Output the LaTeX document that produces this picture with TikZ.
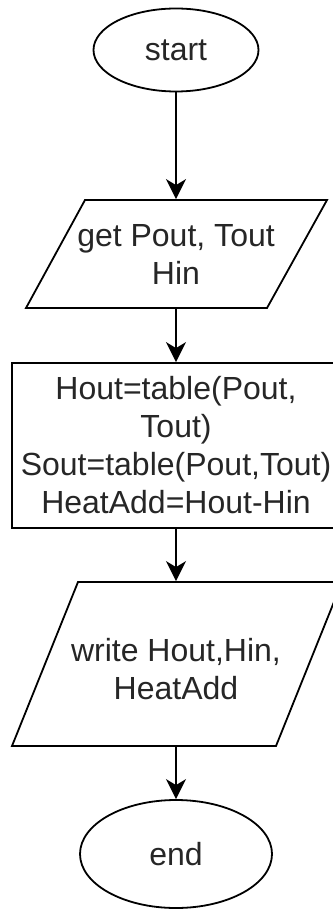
\documentclass[tikz,border=0pt]{standalone}
\usepackage{fontspec}
\setmainfont{Liberation Sans}
\usetikzlibrary{shapes.geometric,arrows.meta}
\begin{document}
\begin{tikzpicture}[x=1pt,y=-1pt,
  line width=1.8pt,
  txt/.style={font=\fontsize{32}{38}\selectfont, text=black!85, align=center},
  term/.style={ellipse, draw, inner sep=0pt, txt},
  ghost/.style={rectangle, inner sep=0pt, txt},
  procbox/.style={rectangle, draw, inner sep=0pt, txt},
  arr/.style={-{Stealth[length=20pt,width=20pt,inset=6pt]}}]
\useasboundingbox (0,0) rectangle (332,909);

% start
\node[term, minimum width=165, minimum height=83] (start) at (176,50) {start};

% input parallelogram
\draw (85,200) -- (327,200) -- (267,308) -- (26,308) -- cycle;
\node[ghost, minimum width=180, minimum height=108] (p1) at (176,254) {get Pout, Tout\\Hin};

% process box
\node[procbox, minimum width=328, minimum height=165] (calc) at (176,445.5)
  {Hout=table(Pout,\\Tout)\\Sout=table(Pout,Tout)\\HeatAdd=Hout-Hin};

% output parallelogram
\draw (78,582) -- (342,582) -- (276,746) -- (12,746) -- cycle;
\node[ghost, minimum width=200, minimum height=164] (p2) at (176,664) {};
\node[ghost] (p2text) at (176,669) {write Hout,Hin,\\HeatAdd};

% end
\node[term, minimum width=192, minimum height=108] (end) at (176,854) {end};

% connectors
\draw[arr] (start.south) -- (p1.north);
\draw[arr] (p1.south) -- (calc.north);
\draw[arr] (calc.south) -- (p2.north);
\draw[arr] (p2.south) -- (end.north);
\end{tikzpicture}
\end{document}
